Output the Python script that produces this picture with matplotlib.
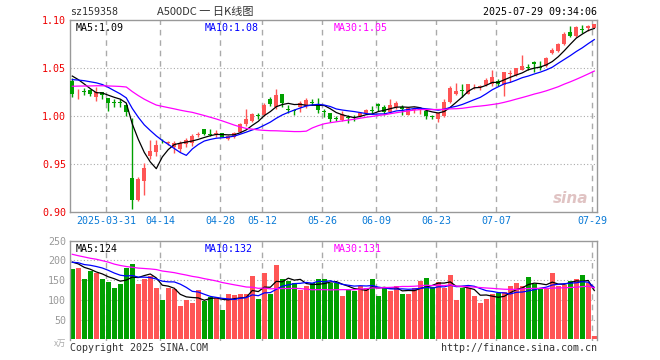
import numpy as np
import pandas as pd
import matplotlib
matplotlib.use("Agg")
import matplotlib.pyplot as plt

# daily candles 2025-03-21 .. 2025-07-29
opens = [1.036, 1.0245, 1.026, 1.027, 1.0194, 1.025, 1.0187, 1.0143, 1.0143, 1.011,
         0.9354, 0.9125, 0.9326, 0.9583, 0.9625, 0.974, 0.9722, 0.9674, 0.9653, 0.9708,
         0.9715, 0.9806, 0.9861, 0.981, 0.9813, 0.9819, 0.9764, 0.9785, 0.9833, 0.9917,
         0.9951, 1.001, 1.0007, 1.0173, 1.009, 1.0229, 1.0063, 1.0056, 1.0097, 1.0104,
         1.0139, 1.0111, 1.0042, 1.0028, 0.9972, 0.9958, 0.998, 0.998, 1.000, 1.0028,
         1.0056, 1.0125, 1.0097, 1.0042, 1.0097, 1.0097, 1.0014, 1.0062, 1.0065, 1.0055,
         0.9993, 0.9972, 1.000, 1.0146, 1.0229, 1.0265, 1.0233, 1.032, 1.0307, 1.0323,
         1.033, 1.0365, 1.0323, 1.044, 1.0427, 1.0483, 1.0504, 1.0559, 1.0504, 1.0524,
         1.0656, 1.0677, 1.0747, 1.087, 1.083, 1.090, 1.0913, 1.092]
highs = [1.040, 1.028, 1.029, 1.0285, 1.0305, 1.025, 1.019, 1.0173, 1.018, 1.013,
         0.9975, 0.9368, 0.9507, 0.975, 0.975, 0.9764, 0.9743, 0.974, 0.974, 0.977,
         0.9813, 0.9833, 0.9865, 0.9861, 0.985, 0.982, 0.980, 0.983, 0.993, 1.007,
         1.0028, 1.0028, 1.0132, 1.0194, 1.0278, 1.0229, 1.011, 1.007, 1.0153, 1.0187,
         1.0173, 1.0187, 1.0076, 1.0028, 1.000, 1.0055, 1.0007, 1.0007, 1.0042, 1.0076,
         1.0104, 1.0139, 1.0118, 1.0173, 1.0153, 1.0118, 1.0083, 1.0097, 1.0076, 1.0062,
         1.0014, 1.0028, 1.0173, 1.0313, 1.034, 1.0333, 1.0337, 1.0337, 1.032, 1.0392,
         1.0482, 1.0385, 1.0462, 1.0476, 1.0503, 1.0635, 1.0545, 1.0573, 1.0573, 1.0615,
         1.0705, 1.076, 1.087, 1.0934, 1.0934, 1.0948, 1.0948, 1.0962]
lows = [1.020, 1.018, 1.022, 1.021, 1.0159, 1.0173, 1.0055, 1.009, 1.009, 1.000,
        0.9034, 0.9111, 0.918, 0.955, 0.958, 0.9715, 0.9694, 0.961, 0.963, 0.968,
        0.969, 0.9785, 0.9806, 0.979, 0.9785, 0.979, 0.975, 0.977, 0.982, 0.990,
        0.994, 0.9965, 1.000, 1.0104, 1.0076, 1.009, 1.0028, 1.001, 1.004, 1.0083,
        1.011, 1.0035, 0.9986, 0.9937, 0.9944, 0.9944, 0.9924, 0.9951, 0.9993, 1.002,
        1.0028, 1.005, 1.0014, 1.0035, 1.0076, 1.0014, 1.0007, 1.0035, 1.002, 0.9965,
        0.9972, 0.9937, 0.9986, 1.0132, 1.0222, 1.0194, 1.0226, 1.028, 1.0267, 1.0309,
        1.0309, 1.0309, 1.0205, 1.0358, 1.0413, 1.0476, 1.0476, 1.0455, 1.0483, 1.051,
        1.0642, 1.067, 1.074, 1.0823, 1.0823, 1.0865, 1.0885, 1.0913]
closes = [1.023, 1.0255, 1.025, 1.023, 1.025, 1.0215, 1.0139, 1.0139, 1.0135, 1.0045,
          0.9125, 0.934, 0.9458, 0.9639, 0.9694, 0.9736, 0.9727, 0.9715, 0.9715, 0.975,
          0.9792, 0.981, 0.9815, 0.9806, 0.9819, 0.9785, 0.9792, 0.9819, 0.9917, 0.9965,
          1.002, 1.000, 1.0118, 1.0125, 1.0222, 1.0132, 1.0062, 1.0055, 1.0139, 1.0167,
          1.0135, 1.0063, 1.004, 0.9972, 0.9969, 1.002, 0.9979, 0.9976, 1.0035, 1.0062,
          1.0055, 1.0104, 1.0042, 1.0118, 1.0139, 1.007, 1.0083, 1.0069, 1.007, 1.000,
          0.999, 1.0028, 1.0146, 1.0292, 1.0264, 1.026, 1.033, 1.0323, 1.031, 1.0378,
          1.0406, 1.0337, 1.0455, 1.0441, 1.0497, 1.0517, 1.05, 1.0538, 1.05, 1.0608,
          1.069, 1.0753, 1.085, 1.0837, 1.0927, 1.0899, 1.0941, 1.0955]
volumes = [179, 182, 154, 172, 167, 154, 146, 129, 141, 181,
           191, 141, 154, 161, 131, 99, 129, 127, 84, 99,
           91, 124, 97, 107, 106, 74, 116, 112, 116, 114,
           161, 102, 169, 114, 189, 154, 149, 144, 124, 136,
           142, 152, 152, 144, 142, 109, 126, 122, 134, 129,
           154, 111, 131, 122, 136, 114, 116, 129, 149, 156,
           133, 146, 129, 164, 99, 129, 131, 109, 91, 102,
           114, 117, 121, 136, 142, 136, 159, 139, 129, 129,
           169, 134, 137, 149, 152, 164, 144, 9]

# sessions before the window, only needed to start the moving averages
prev_close = [1.020, 1.022, 1.021, 1.019, 1.022, 1.020, 1.021, 1.022, 1.022,
              1.055, 1.060, 1.058, 1.059, 1.057,
              1.015, 1.012, 1.010, 1.013, 1.011, 1.011,
              1.030, 1.032, 1.034, 1.036, 1.039, 1.044, 1.048, 1.047, 1.046]
prev_vol = [290, 250, 270, 240, 265, 255, 280, 245, 260, 252,
            200, 185, 195, 178, 210, 188, 192, 180, 186, 191,
            195, 200, 190, 198, 192, 205, 198, 196, 201]

date_idx = [6, 15, 25, 32, 42, 51, 61, 71, 87]
date_lbl = ["2025-03-31", "04-14", "04-28", "05-12", "05-26", "06-09", "06-23", "07-07", "07-29"]

RED = "#ff5555"
GREEN = "#00a000"
MONO = "DejaVu Sans Mono"
FS = 7.2

n = len(closes)
x = np.arange(n)
o = np.array(opens); h = np.array(highs); l = np.array(lows); c = np.array(closes)
up = c >= o
cols = np.where(up, RED, GREEN)

cs = pd.Series(prev_close + closes)
ma = {k: cs.rolling(k).mean().values[-n:] for k in (5, 10, 30)}
vs = pd.Series(prev_vol + volumes, dtype=float)
vma = {k: vs.rolling(k).mean().values[-n:] for k in (5, 10, 30)}

fig = plt.figure(figsize=(6.6, 3.6), dpi=100)
ax = fig.add_axes([70.3/660, 1-212/360, 527/660, 192/360])
axv = fig.add_axes([70.3/660, 1-340.5/360, 527/660, 99.8/360])

xl = ((70.3-72.3)/6, (597.3-72.3)/6)

for a in (ax, axv):
    a.set_xlim(*xl)
    for s in a.spines.values():
        s.set_color("#999999")
        s.set_linewidth(1)
    a.tick_params(length=0)
    for gi in date_idx:
        a.axvline(gi - 0.33, color="#aaaaaa", lw=1, ls=(0, (4, 3.5)), zorder=0)
axv.spines["bottom"].set_visible(False)

# price panel
ax.set_ylim(0.90, 1.10)
for gy in (0.95, 1.00, 1.05):
    ax.axhline(gy, color="#aaaaaa", lw=0.8, ls=(0, (1, 2)), zorder=0)
ax.vlines(x, l, h, colors=cols, lw=1, zorder=2)
body = np.maximum(np.abs(c - o), 0.0007)
ax.bar(x, body, 0.72, bottom=np.minimum(o, c), color=cols, lw=0, zorder=3)
ax.plot(x, ma[5], color="black", lw=0.9, zorder=4)
ax.plot(x, ma[10], color="#0000ff", lw=0.9, zorder=4)
ax.plot(x, ma[30], color="#ff00ff", lw=0.9, zorder=4)
ax.set_yticks([0.90, 0.95, 1.00, 1.05, 1.10])
ax.set_yticklabels(["0.90", "0.95", "1.00", "1.05", "1.10"], color="#ee0000",
                   family=MONO, fontsize=FS)
ax.tick_params(axis="y", pad=3)
ax.set_xticks([i - 0.33 for i in date_idx])
ax.set_xticklabels(date_lbl, color="#0a7ad6", family=MONO, fontsize=FS)
ax.tick_params(axis="x", pad=3)
ax.text(0.01, 0.985, "MA5:%.2f" % ma[5][-1], transform=ax.transAxes, va="top",
        family=MONO, fontsize=FS, color="black")
ax.text(0.255, 0.985, "MA10:%.2f" % ma[10][-1], transform=ax.transAxes, va="top",
        family=MONO, fontsize=FS, color="#0000ff")
ax.text(0.5, 0.985, "MA30:%.2f" % ma[30][-1], transform=ax.transAxes, va="top",
        family=MONO, fontsize=FS, color="#ff00ff")
ax.text(0.95, 0.07, "sina", transform=ax.transAxes, ha="center", va="center",
        fontsize=11, style="italic", weight="bold", color="#d9b5b5", alpha=0.8)

# volume panel
axv.set_ylim(-3, 250)
for gy in (50, 100, 150, 200):
    axv.axhline(gy, color="#aaaaaa", lw=0.8, ls=(0, (1, 2)), zorder=0)
axv.bar(x, volumes, 0.78, color=cols, lw=0, zorder=2)
axv.plot(x, vma[5], color="black", lw=0.9, zorder=4)
axv.plot(x, vma[10], color="#0000ff", lw=0.9, zorder=4)
axv.plot(x, vma[30], color="#ff00ff", lw=0.9, zorder=4)
axv.set_yticks([0, 50, 100, 150, 200, 250])
axv.set_yticklabels(["", "50", "100", "150", "200", "250"], color="#999999",
                    family=MONO, fontsize=FS)
axv.tick_params(axis="y", pad=3)
axv.set_xticks([])
axv.text(0.01, 0.97, "MA5:%d" % round(vma[5][-1]), transform=axv.transAxes, va="top",
         family=MONO, fontsize=FS, color="black")
axv.text(0.255, 0.97, "MA10:%d" % round(vma[10][-1]), transform=axv.transAxes, va="top",
         family=MONO, fontsize=FS, color="#0000ff")
axv.text(0.5, 0.97, "MA30:%d" % round(vma[30][-1]), transform=axv.transAxes, va="top",
         family=MONO, fontsize=FS, color="#ff00ff")

# header / footer
fig.text(70/660, 1-12/360, "sz159358", family=MONO, fontsize=FS, va="center", color="#333333")
fig.text(205/660, 1-12/360, "A500DC 一 日K线图", family=["Noto Sans CJK SC", "DejaVu Sans"],
         fontsize=8, va="center", ha="center", color="#333333")
fig.text(597/660, 1-12/360, "2025-07-29 09:34:06", family=MONO, fontsize=FS,
         va="center", ha="right", color="black")
fig.text(66/660, 1-343/360, "x万", family=["Noto Sans CJK SC", "DejaVu Sans"], fontsize=6,
         va="center", ha="right", color="#aaaaaa")
fig.text(70/660, 1-348/360, "Copyright 2025 SINA.COM", family=MONO, fontsize=FS,
         va="center", color="#333333")
fig.text(597/660, 1-348/360, "http://finance.sina.com.cn", family=MONO, fontsize=FS,
         va="center", ha="right", color="#333333")

fig.savefig("out.png", dpi=100)
